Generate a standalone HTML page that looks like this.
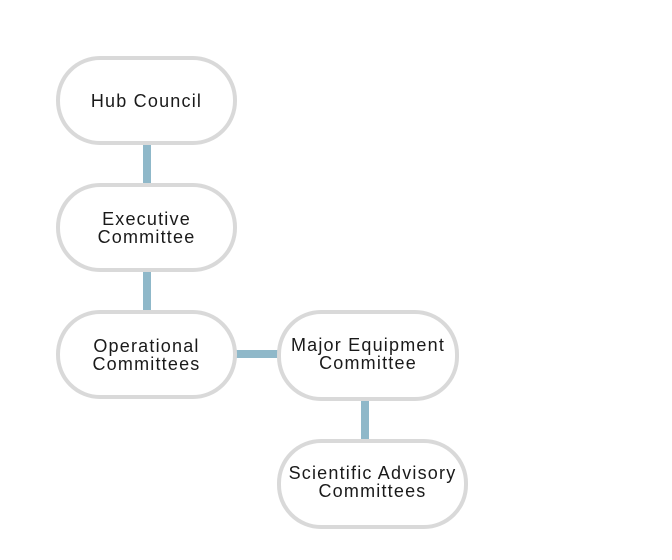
<!DOCTYPE html>
<html><head><meta charset="utf-8"><style>
body{margin:0;background:#fff;width:672px;height:560px;position:relative;overflow:hidden;font-family:"Liberation Sans",sans-serif;}
.b{position:absolute;box-sizing:border-box;border:4px solid #d9d9d9;border-radius:44px;background:#fff;display:flex;align-items:center;justify-content:center;text-align:center;font-size:18px;letter-spacing:1.2px;line-height:18px;color:#1a1a1a;white-space:nowrap;}
.c{position:absolute;background:#8fb8c9;}
</style></head><body>
<div class="c" style="left:143px;top:144px;width:8px;height:42px"></div>
<div class="c" style="left:143px;top:270px;width:8px;height:42px"></div>
<div class="c" style="left:236px;top:350px;width:43px;height:8px"></div>
<div class="c" style="left:361px;top:398px;width:8px;height:43px"></div>
<div class="b" style="left:56px;top:56px;width:181px;height:89px">Hub Council</div>
<div class="b" style="left:56px;top:183px;width:181px;height:89px">Executive<br>Committee</div>
<div class="b" style="left:56px;top:310px;width:181px;height:89px">Operational<br>Committees</div>
<div class="b" style="left:277px;top:310px;width:182px;height:91px;padding-bottom:4px">Major Equipment<br>Committee</div>
<div class="b" style="left:277px;top:439px;width:191px;height:90px;padding-bottom:4px">Scientific Advisory<br>Committees</div>
</body></html>
